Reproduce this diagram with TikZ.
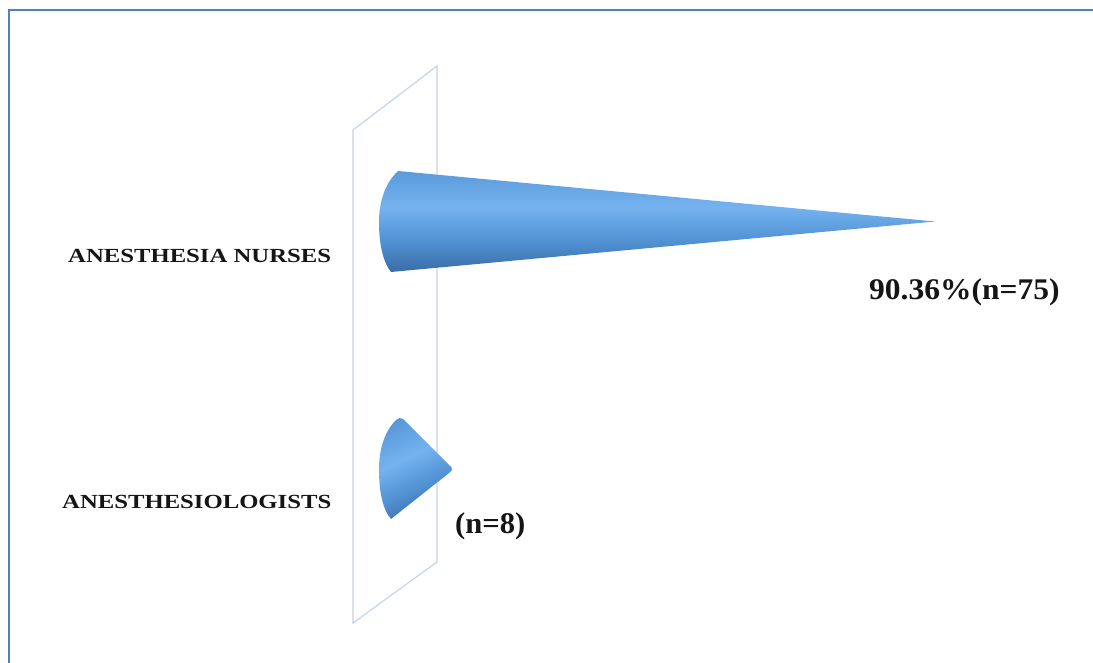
\documentclass[tikz,border=0pt]{standalone}
\usepackage{fontspec}
\setmainfont{Liberation Serif}
\usepackage{graphicx}
\definecolor{frameblue}{HTML}{4F81BD}
\definecolor{planeblue}{HTML}{C2D2E8}
\definecolor{conedark}{HTML}{284F7E}
\definecolor{conemid}{HTML}{4D8CCE}
\definecolor{conelight}{HTML}{74B3EF}
\definecolor{textblack}{HTML}{151515}
\pgfdeclareverticalshading{conefill}{100bp}{%
  color(0bp)=(conedark);
  color(12bp)=(conedark);
  color(38bp)=(conemid);
  color(57bp)=(conelight);
  color(86bp)=(conemid);
  color(100bp)=(conemid!80!conedark)}
\tikzset{
  frame/.style={draw=frameblue, line width=2.6pt},
  plane/.style={draw=planeblue, line width=1.1pt},
  cone/.style={shading=conefill, draw=none},
  catlabel/.style={font=\bfseries\fontsize{20}{22}\selectfont, text=textblack, anchor=base west, inner sep=0pt},
  vallabel/.style={font=\bfseries\fontsize{30}{32}\selectfont, text=textblack, anchor=base west, inner sep=0pt}
}
\begin{document}
\begin{tikzpicture}[x=1pt,y=-1pt]
\useasboundingbox (0,0) rectangle (1093,663);
\fill[white] (0,0) rectangle (1093,663);
\clip (0,0) rectangle (1093,663);
% outer frame
\draw[frame] (9,10) rectangle (1110,680);
% back plane
\draw[plane] (353,130) -- (437,66) -- (437,562) -- (353,623) -- cycle;
% big cone
\path[cone] (398,171) .. controls (384,184) and (379,204) .. (379,222)
  .. controls (379,244) and (383,262) .. (391,272)
  -- (935,221.5) -- cycle;
% small cone
\path[cone, shading angle=25] (396,420) .. controls (384,432) and (379,450) .. (379,470)
  .. controls (379,492) and (383,510) .. (391,519)
  -- (449,473) .. controls (453,470) and (453,468) .. (449,465)
  -- (403,419) .. controls (401,417) and (398,418) .. (396,420) -- cycle;
% labels
\node[catlabel] (nurses) at (68,262) {\scalebox{1.235}[1]{ANESTHESIA NURSES}};
\node[catlabel] (anesth) at (62,508) {\scalebox{1.235}[1]{ANESTHESIOLOGISTS}};
\node[vallabel] (v1) at (869,300) {\scalebox{1.05}[1]{90.36\%(n=75)}};
\node[vallabel] (v2) at (455,533) {\scalebox{1.02}[1]{(n=8)}};
\end{tikzpicture}
\end{document}
